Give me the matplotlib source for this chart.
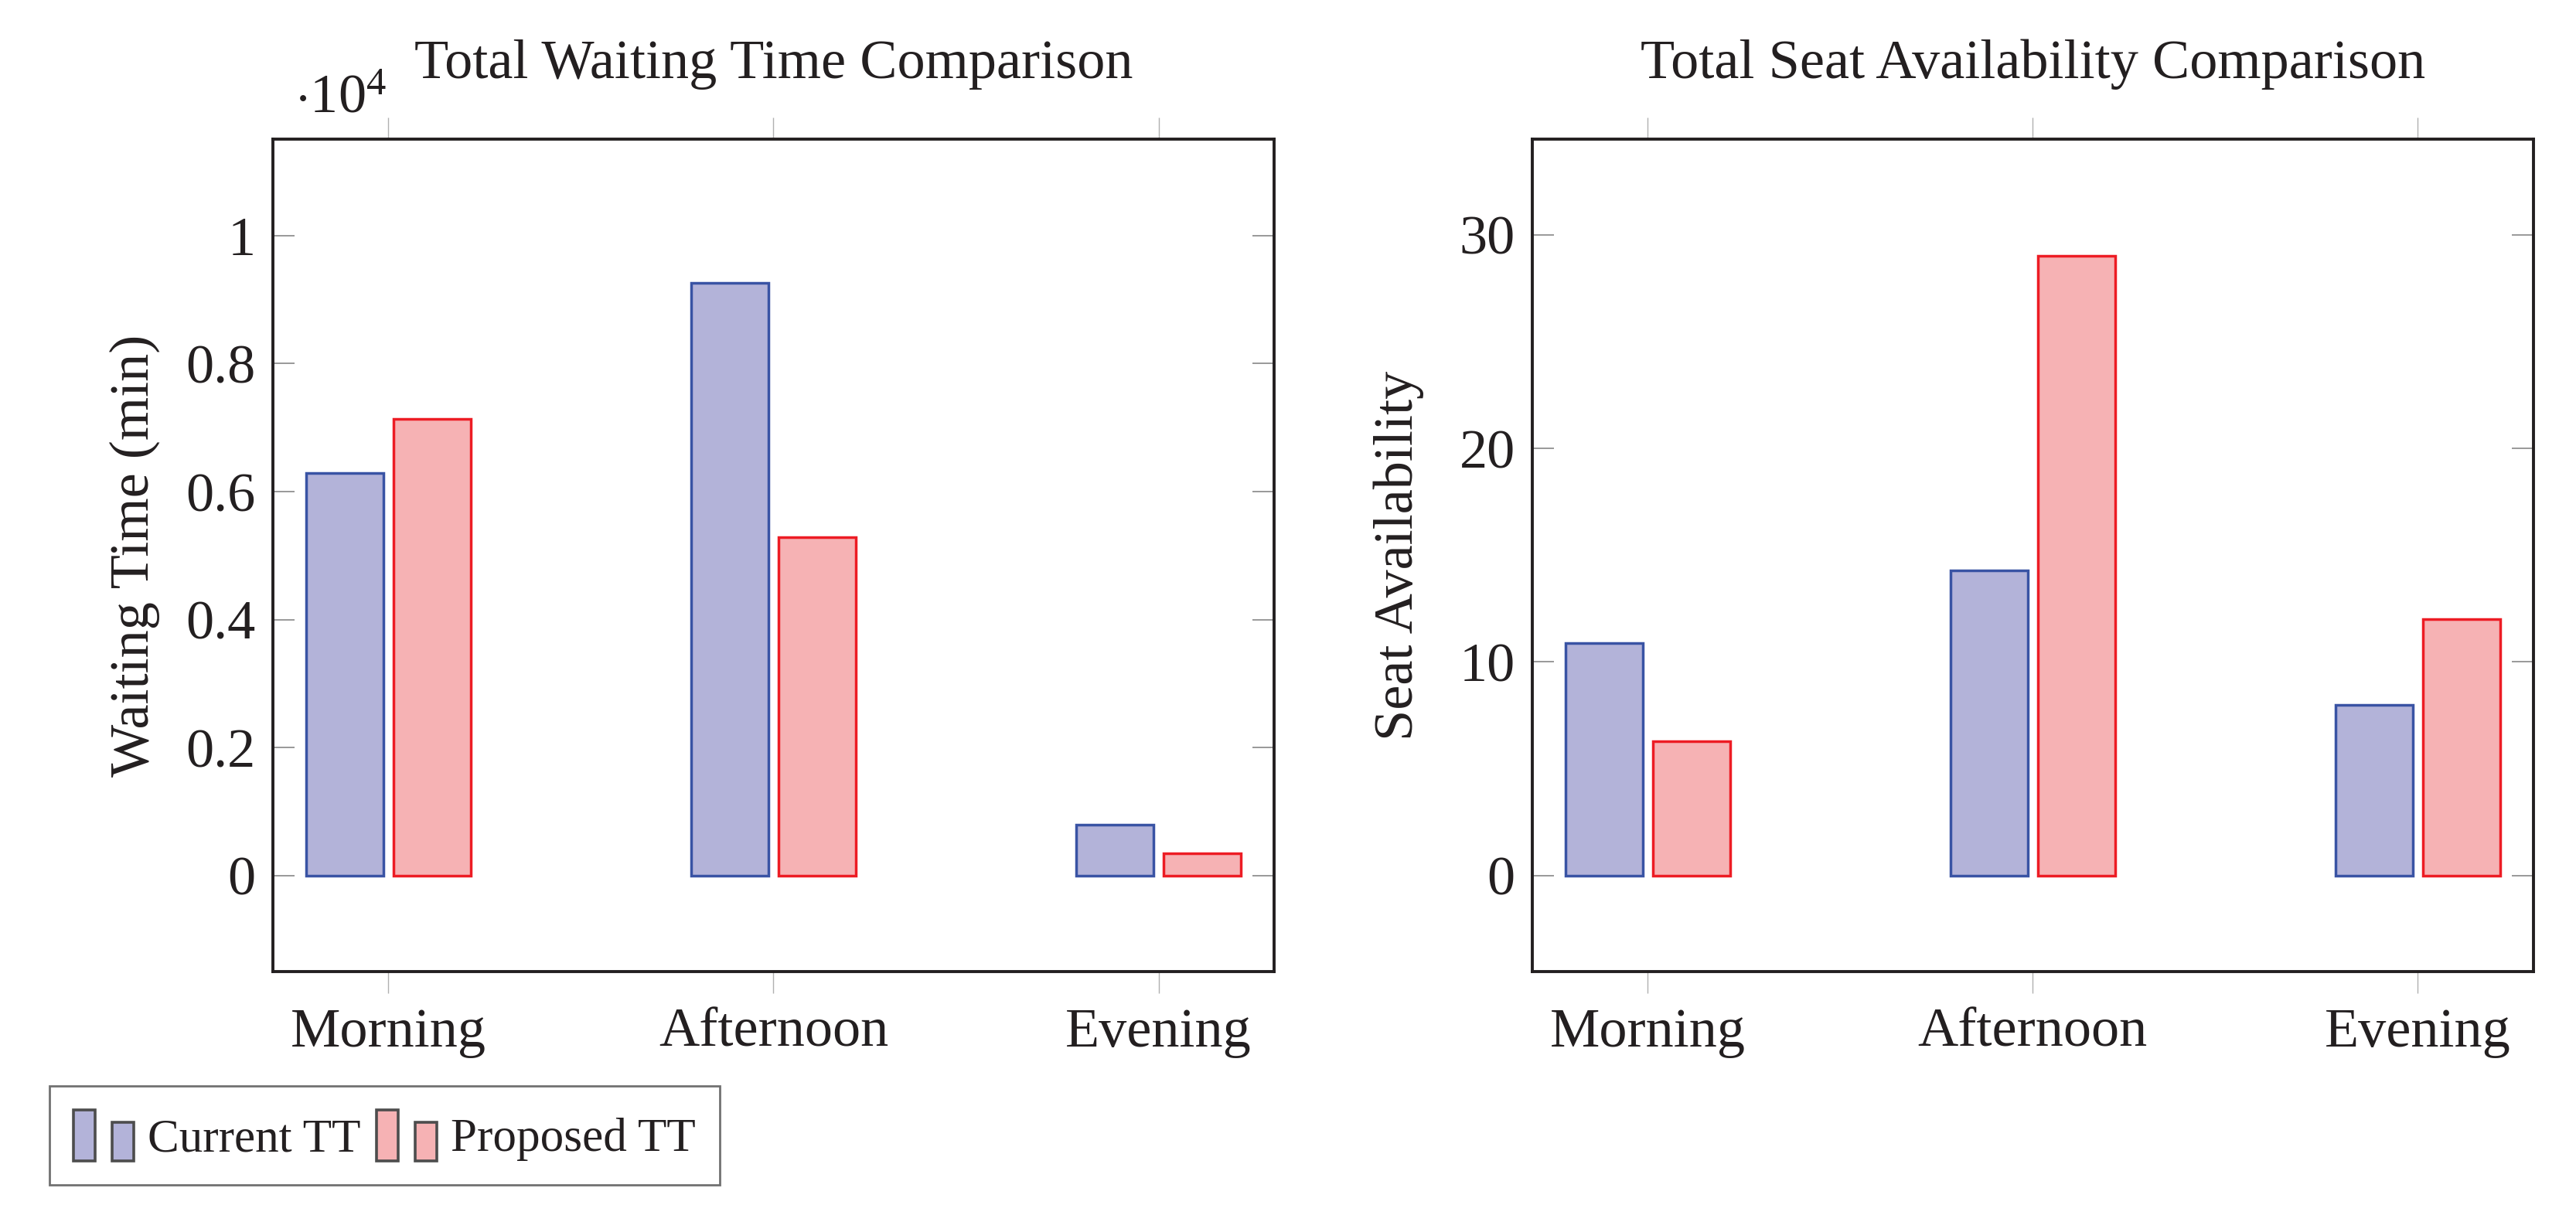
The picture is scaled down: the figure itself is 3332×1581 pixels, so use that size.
import numpy as np
import matplotlib
matplotlib.use("Agg")
import matplotlib.pyplot as plt
from matplotlib.ticker import FuncFormatter
from matplotlib.legend_handler import HandlerBase
from matplotlib.patches import Rectangle, Patch

# Data
periods = ["Morning", "Afternoon", "Evening"]
series_names = ["Current TT", "Proposed TT"]
waiting_current = [6290, 9260, 800]
waiting_proposed = [7130, 5290, 350]
seats_current = [10.9, 14.3, 8.0]
seats_proposed = [6.3, 29.0, 12.0]

# Style
plt.rcParams['font.family'] = ['Liberation Serif', 'DejaVu Serif']
plt.rcParams['mathtext.fontset'] = 'custom'
plt.rcParams['mathtext.rm'] = 'Liberation Serif'
plt.rcParams['mathtext.it'] = 'Liberation Serif:italic'
text_color = '#231f20'
blue_edge, blue_fill = '#3953a4', '#b3b3d9'
red_edge, red_fill = '#ed1c24', '#f6b2b4'
fs = 26

fig = plt.figure(figsize=(16.66, 7.905), dpi=200)
ax1 = fig.add_axes([0.1059, 0.2051, 0.3887, 0.6810])
ax2 = fig.add_axes([0.5948, 0.2051, 0.3886, 0.6810])

x = np.arange(len(periods))
bar_w = 0.2
shift = 0.1135


def style_axes(ax, title, ylabel):
    for s in ax.spines.values():
        s.set_color(text_color)
        s.set_linewidth(1.4)
    ax.set_xlim(-0.3, 2.3)
    ax.set_xticks(x)
    ax.set_xticklabels(periods)
    ax.tick_params(axis='x', direction='out', length=10, width=0.5,
                   color='#b0b0b0', top=True, bottom=True,
                   labelsize=fs, labelcolor=text_color, pad=7)
    ax.tick_params(axis='y', direction='in', length=10, width=0.7,
                   color='#999999', left=True, right=True,
                   labelsize=fs, labelcolor=text_color, pad=8)
    ax.text(0.5, 1.073, title, transform=ax.transAxes, ha='center',
            va='baseline', fontsize=fs, color=text_color)
    ax.set_ylabel(ylabel, fontsize=fs, color=text_color)


# Left: waiting time
ax1.bar(x - shift, waiting_current, bar_w, facecolor=blue_fill,
        edgecolor=blue_edge, linewidth=1.25)
ax1.bar(x + shift, waiting_proposed, bar_w, facecolor=red_fill,
        edgecolor=red_edge, linewidth=1.25)
ax1.set_ylim(-1496, 11507)
ax1.set_yticks([0, 2000, 4000, 6000, 8000, 10000])
ax1.yaxis.set_major_formatter(FuncFormatter(lambda v, p: f'{v / 1e4:g}'))
style_axes(ax1, "Total Waiting Time Comparison", "Waiting Time (min)")
ax1.yaxis.set_label_coords(-0.113, 0.5)
ax1.text(0.0216, 1.0325, r'$\cdot 10^{4}$', transform=ax1.transAxes,
         ha='left', va='baseline', fontsize=fs, color=text_color)

# Right: seat availability
ax2.bar(x - shift, seats_current, bar_w, facecolor=blue_fill,
        edgecolor=blue_edge, linewidth=1.25)
ax2.bar(x + shift, seats_proposed, bar_w, facecolor=red_fill,
        edgecolor=red_edge, linewidth=1.25)
ax2.set_ylim(-4.48, 34.47)
ax2.set_yticks([0, 10, 20, 30])
style_axes(ax2, "Total Seat Availability Comparison", "Seat Availability")
ax2.yaxis.set_label_coords(-0.108, 0.5)


# Legend with pgfplots-style two-bar images
class TwoBarHandler(HandlerBase):
    def create_artists(self, legend, orig_handle, xdescent, ydescent,
                       width, height, fontsize, trans):
        fc = orig_handle.get_facecolor()
        bw = width * 0.36
        x0 = -xdescent
        y0 = -ydescent
        r1 = Rectangle((x0, y0), bw, height, facecolor=fc,
                       edgecolor='#4d4d4d', linewidth=1.3, transform=trans)
        r2 = Rectangle((x0 + width - bw, y0), bw, height * 0.76,
                       facecolor=fc, edgecolor='#4d4d4d', linewidth=1.3,
                       transform=trans)
        return [r1, r2]


handles = [Patch(facecolor=blue_fill), Patch(facecolor=red_fill)]
leg = fig.legend(handles, series_names, loc='upper left',
                 bbox_to_anchor=(0.0192, 0.1113), borderaxespad=0,
                 ncol=2, fontsize=22, frameon=True, fancybox=False,
                 handlelength=1.28, handleheight=1.3, handletextpad=0.3,
                 columnspacing=0.33, borderpad=0.5,
                 handler_map={Patch: TwoBarHandler()})
leg.get_frame().set_edgecolor('#4d4d4d')
leg.get_frame().set_linewidth(1.0)
for t in leg.get_texts():
    t.set_color(text_color)

fig.savefig("out.png", dpi=200)
